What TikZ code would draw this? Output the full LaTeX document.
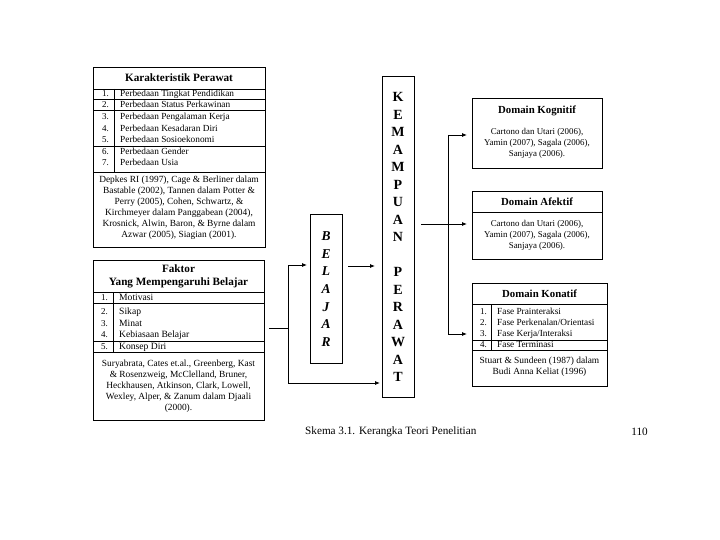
\documentclass[tikz,border=0pt]{standalone}
\usepackage{fontspec}
\setmainfont{Liberation Serif}
\usetikzlibrary{arrows.meta}
\begin{document}
\begin{tikzpicture}[x=1pt,y=-1pt,
  box/.style={draw, line width=0.9pt, inner sep=0pt, outer sep=0pt, anchor=north west},
  ln/.style={line width=0.8pt},
  num/.style={anchor=east, font=\fontsize{9}{10}\selectfont, inner sep=0pt, text height=7.4pt, text depth=2pt},
  item/.style={anchor=west, font=\fontsize{9.3}{10}\selectfont, inner sep=0pt, text height=7.4pt, text depth=2pt},
  itemb/.style={item, font=\fontsize{9.6}{10}\selectfont},
  ttl/.style={font=\bfseries\fontsize{11.2}{13}\selectfont, inner sep=0pt, align=center},
  dttl/.style={font=\bfseries\fontsize{10.8}{12}\selectfont, inner sep=0pt, align=center},
  cite/.style={font=\fontsize{9.4}{11.1}\selectfont, inner sep=0pt, align=center},
  dcite/.style={font=\fontsize{8.9}{11}\selectfont, inner sep=0pt, align=center},
  kcite/.style={font=\fontsize{9.4}{10.8}\selectfont, inner sep=0pt, align=center},
  conn/.style={line width=0.8pt},
  arr/.style={conn, -{Latex[length=5pt,width=4pt]}},
  letters/.style={font=\bfseries\fontsize{14}{17.5}\selectfont, align=center, inner sep=0pt},
  iletters/.style={font=\bfseries\itshape\fontsize{13.5}{17.6}\selectfont, align=center, inner sep=0pt},
  captext/.style={font=\fontsize{11.2}{13}\selectfont, inner sep=0pt}
]
\useasboundingbox (0,0) rectangle (720,540);

% ---------- Box 1: Karakteristik Perawat ----------
\node[box, minimum width=172pt, minimum height=180pt] (kar) at (93,67) {};
\node[ttl] (karT) at (179,78) {Karakteristik Perawat};
\draw[ln] (93,89) -- (265,89);
\draw[ln] (93,99) -- (265,99);
\draw[ln] (93,110) -- (265,110);
\draw[ln] (93,146) -- (265,146);
\draw[ln] (93,172) -- (265,172);
\draw[ln] (114,89) -- (114,172);
\node[num] (kn1) at (109,94) {1.};
\node[item] (ki1) at (120,94) {Perbedaan Tingkat Pendidikan};
\node[num] (kn2) at (109,104.5) {2.};
\node[item] (ki2) at (120,104.5) {Perbedaan Status Perkawinan};
\node[num] (kn3) at (109,117) {3.};
\node[item] (ki3) at (120,117) {Perbedaan Pengalaman Kerja};
\node[num] (kn4) at (109,128.5) {4.};
\node[item] (ki4) at (120,128.5) {Perbedaan Kesadaran Diri};
\node[num] (kn5) at (109,140) {5.};
\node[item] (ki5) at (120,140) {Perbedaan Sosioekonomi};
\node[num] (kn6) at (109,151.5) {6.};
\node[item] (ki6) at (120,151.5) {Perbedaan Gender};
\node[num] (kn7) at (109,163) {7.};
\node[item] (ki7) at (120,163) {Perbedaan Usia};
\node[cite] (karC) at (179,208) {Depkes RI (1997), Cage \& Berliner dalam\\Bastable (2002), Tannen dalam Potter \&\\Perry (2005), Cohen, Schwartz, \&\\Kirchmeyer dalam Panggabean (2004),\\Krosnick, Alwin, Baron, \& Byrne dalam\\Azwar (2005), Siagian (2001).};

% ---------- Box 2: Faktor ----------
\node[box, minimum width=171pt, minimum height=160pt] (fak) at (93,260) {};
\node[ttl] (fakT) at (178.5,276.5) {Faktor\\Yang Mempengaruhi Belajar};
\draw[ln] (93,292) -- (264,292);
\draw[ln] (93,303) -- (264,303);
\draw[ln] (93,341) -- (264,341);
\draw[ln] (93,352) -- (264,352);
\draw[ln] (113,292) -- (113,352);
\node[num] (fn1) at (108,297.5) {1.};
\node[itemb] (fi1) at (119,297.5) {Motivasi};
\node[num] (fn2) at (108,312) {2.};
\node[itemb] (fi2) at (119,312) {Sikap};
\node[num] (fn3) at (108,323.5) {3.};
\node[itemb] (fi3) at (119,323.5) {Minat};
\node[num] (fn4) at (108,335) {4.};
\node[itemb] (fi4) at (119,335) {Kebiasaan Belajar};
\node[num] (fn5) at (108,346.5) {5.};
\node[itemb] (fi5) at (119,346.5) {Konsep Diri};
\node[cite] (fakC) at (178.5,386) {Suryabrata, Cates et.al., Greenberg, Kast\\\& Rosenzweig, McClelland, Bruner,\\Heckhausen, Atkinson, Clark, Lowell,\\Wexley, Alper, \& Zanum dalam Djaali\\(2000).};

% ---------- BELAJAR ----------
\node[box, minimum width=32pt, minimum height=149pt] (bel) at (310,214) {};
\node[iletters] (belT) at (326,289) {B\\E\\L\\A\\J\\A\\R};

% ---------- KEMAMPUAN PERAWAT ----------
\node[box, minimum width=32pt, minimum height=321pt] (kem) at (382,76) {};
\node[letters] (kemT) at (398,237) {K\\E\\M\\A\\M\\P\\U\\A\\N\\[17.5pt]P\\E\\R\\A\\W\\A\\T};

% ---------- Domain Kognitif ----------
\node[box, minimum width=130pt, minimum height=70pt] (kog) at (472,98) {};
\node[dttl] (kogT) at (537,111) {Domain Kognitif};
\node[dcite] (kogC) at (537,143.5) {Cartono dan Utari (2006),\\Yamin (2007), Sagala (2006),\\Sanjaya (2006).};

% ---------- Domain Afektif ----------
\node[box, minimum width=130pt, minimum height=68pt] (afe) at (472,191) {};
\node[dttl] (afeT) at (537,202) {Domain Afektif};
\draw[ln] (472,212) -- (602,212);
\node[dcite] (afeC) at (537,235) {Cartono dan Utari (2006),\\Yamin (2007), Sagala (2006),\\Sanjaya (2006).};

% ---------- Domain Konatif ----------
\node[box, minimum width=135pt, minimum height=103pt] (kon) at (472,283) {};
\node[dttl] (konT) at (539.5,294) {Domain Konatif};
\draw[ln] (472,304) -- (607,304);
\draw[ln] (472,340) -- (607,340);
\draw[ln] (472,350) -- (607,350);
\draw[ln] (491,304) -- (491,350);
\node[num] (on1) at (487,311.5) {1.};
\node[item] (oi1) at (497,311.5) {Fase Prainteraksi};
\node[num] (on2) at (487,322.5) {2.};
\node[item] (oi2) at (497,322.5) {Fase Perkenalan/Orientasi};
\node[num] (on3) at (487,334) {3.};
\node[item] (oi3) at (497,334) {Fase Kerja/Interaksi};
\node[num] (on4) at (487,345) {4.};
\node[item] (oi4) at (497,345) {Fase Terminasi};
\node[kcite] (konC) at (539.5,367) {Stuart \& Sundeen (1987) dalam\\Budi Anna Keliat (1996)};

% ---------- Connectors ----------
\coordinate (s1) at (269,328);
\coordinate (j1) at (288,328);
\coordinate (jt) at (288,265);
\coordinate (jb) at (288,383);
\draw[conn] (s1) -- (j1);
\draw[conn] (jt) -- (jb);
\draw[arr, shorten >=3pt] (jt) -- (jt -| bel.west);
\draw[arr, shorten >=2pt] (jb) -- (jb -| kem.west);
\coordinate (yb) at (0,266);
\draw[arr, shorten <=6pt, shorten >=7pt] (bel.east |- yb) -- (kem.west |- yb);
\coordinate (ya) at (0,224);
\draw[arr, shorten <=7pt, shorten >=5pt] (kem.east |- ya) -- (afe.west |- ya);
\coordinate (vt) at (448,135);
\coordinate (vb) at (448,334);
\draw[conn] (vt) -- (vb);
\draw[arr, shorten >=5pt] (vt) -- (vt -| kog.west);
\draw[arr, shorten >=5pt] (vb) -- (vb -| kon.west);

% ---------- Caption ----------
\node[captext, anchor=west] (capL) at (305,432) {Skema 3.1. Kerangka Teori Penelitian};
\node[captext, anchor=east] (capR) at (648,432) {110};
\end{tikzpicture}
\end{document}
